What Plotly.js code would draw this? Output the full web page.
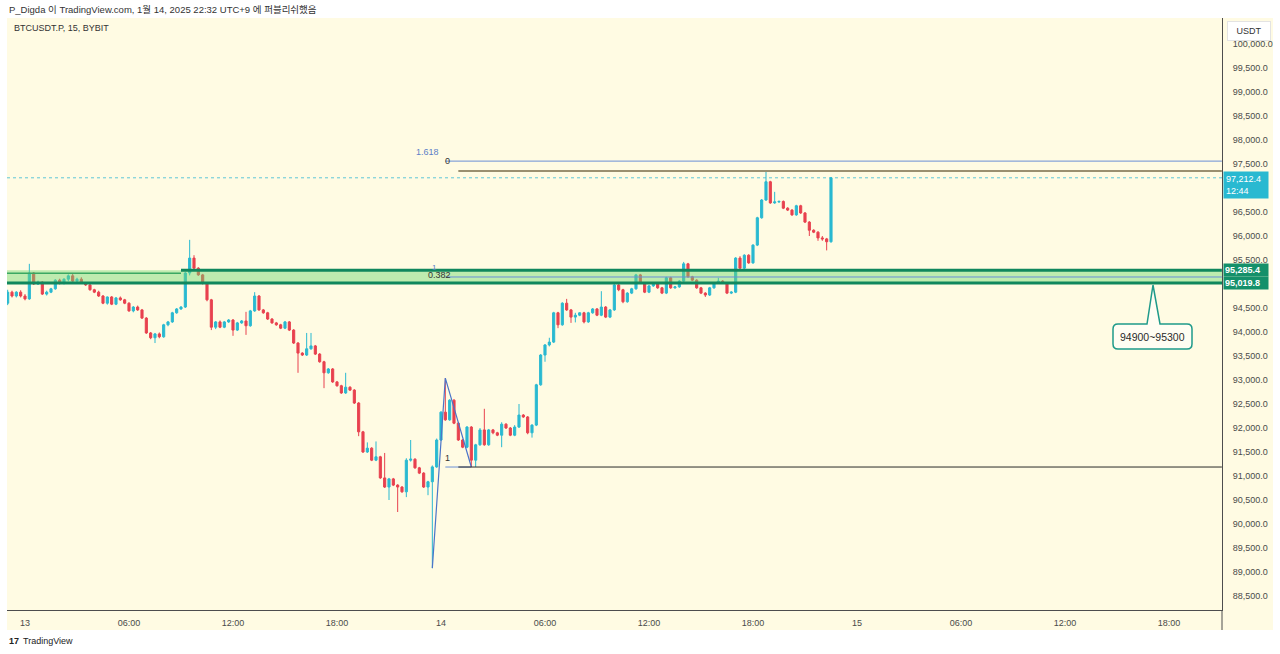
<!DOCTYPE html>
<html>
<head>
<meta charset="utf-8">
<script src="https://cdn.plot.ly/plotly-3.0.1.min.js"></script>
<style>
  html, body { margin: 0; padding: 0; background: #ffffff; }
  #chart { width: 1280px; height: 654px; }
</style>
</head>
<body>
<div id="chart"></div>
<script>
// ---- Data (BTCUSDT.P 15m, BYBIT) -- first candle 2025-01-12 23:00 (UTC+9), 15-minute step ----
const startTime = Date.UTC(2025, 0, 12, 23, 0);
const stepMinutes = 15;

const openP = [
94600,94830,94750,94830,94750,94690,95230,95000,95040,94790,
94830,94900,95080,95020,95100,95170,95060,95100,95020,94980,
94880,94830,94750,94600,94730,94580,94710,94670,94600,94440,
94520,94460,94290,93980,93880,93960,93900,94150,94210,94400,
94480,94520,95230,95540,95330,95190,95020,94670,94100,94210,
94100,94210,94250,94040,94190,94230,94130,94440,94750,94460,
94400,94270,94190,94150,94080,94210,94040,93770,93560,93520,
93650,93710,93540,93380,93150,93230,92960,92880,92730,92850,
92790,92520,91920,91500,91580,91330,91400,90960,90770,90940,
90810,90770,90670,91330,91350,91170,91060,90770,90880,91190,
91750,92330,92170,92580,92100,91750,91600,92020,91330,91650,
91960,91650,91960,91900,91850,92080,92000,91850,92020,92270,
92230,91900,92060,92900,93520,93730,93790,94400,94150,94600,
94460,94310,94350,94400,94210,94400,94480,94350,94520,94310,
94460,94980,94880,94630,94810,94900,95190,95020,94830,94960,
95020,94920,94810,95130,94920,94940,95060,95420,95150,95080,
94920,94810,94770,94920,95020,95060,95020,94810,94830,95540,
95330,95600,95440,95810,96380,96750,97130,96690,96710,96720,
96580,96540,96440,96630,96480,96290,96120,96080,95960,95940,
95880];
const highP = [
94880,94860,94850,94870,94790,95420,95250,95070,95060,94860,
94920,95100,95110,95120,95200,95210,95130,95140,95040,95000,
94900,94860,94770,94740,94750,94730,94740,94690,94620,94540,
94550,94480,94310,94000,93980,93990,94170,94230,94420,94500,
94540,95250,95920,95600,95350,95210,95040,94690,94230,94240,
94230,94270,94270,94210,94250,94420,94460,94830,94770,94480,
94420,94290,94210,94170,94230,94230,94060,93790,93580,93980,
93980,93730,93560,93400,93250,93250,92980,92900,93150,92870,
92810,92540,91940,91700,91600,91720,91420,91480,90960,90960,
90830,90790,91370,91750,91370,91190,91080,90900,91220,91780,
92350,93040,92600,92600,92120,91770,92040,92040,91670,92000,
92400,91980,91980,91920,92120,92100,92020,92060,92500,92290,
92250,92080,92920,93540,93750,93880,94420,94420,94620,94690,
94480,94400,94410,94420,94420,94500,94500,94850,94540,94480,
95000,95000,94900,94830,94920,95210,95210,95040,94980,95040,
95040,94940,95150,95150,94960,95080,95460,95440,95170,95100,
94940,94830,94940,95040,95130,95080,95040,94850,95560,95580,
95620,95620,95830,96400,96770,97354,97150,96920,96740,96740,
96600,96560,96650,96650,96500,96310,96140,96100,96000,95960,
97230];
const lowP = [
94560,94720,94720,94720,94660,94670,94980,94980,94770,94760,
94810,94880,94990,94990,95060,95040,95020,95000,94960,94860,
94810,94730,94580,94570,94560,94560,94650,94580,94420,94410,
94440,94270,93960,93850,93770,93870,93880,94120,94190,94380,
94460,94500,95180,95310,95170,94990,94640,94040,94060,94080,
94080,94190,93920,94020,94170,93940,94110,94420,94440,94380,
94250,94170,94130,94060,94060,94020,93750,93150,93500,93500,
93630,93520,93360,92830,93130,92940,92860,92710,92710,92770,
92500,91830,91480,91480,91310,91310,90940,90750,90500,90790,
90250,90650,90560,91300,91150,91040,90750,90600,89080,91170,
91730,92150,92150,92080,91730,91580,91580,91187,91190,91630,
91630,91630,91870,91830,91600,91980,91830,91830,92000,92210,
91870,91800,92040,92880,93380,93700,93770,94080,94130,94440,
94190,94200,94330,94180,94190,94380,94330,94330,94290,94290,
94440,94850,94600,94610,94790,94880,95000,94810,94810,94940,
94900,94790,94790,94900,94900,94920,95040,95130,95060,94900,
94790,94730,94750,94900,95000,95000,94790,94790,94810,95310,
95310,95420,95420,95790,96360,96730,96670,96670,96690,96560,
96520,96420,96420,96460,96270,96000,96060,95900,95900,95700,
95860];
const closeP = [
94830,94750,94830,94750,94690,95230,95000,95040,94790,94830,
94900,95080,95020,95100,95170,95060,95100,95020,94980,94880,
94830,94750,94600,94730,94580,94710,94670,94600,94440,94520,
94460,94290,93980,93880,93960,93900,94150,94210,94400,94480,
94520,95230,95540,95330,95190,95020,94670,94100,94210,94100,
94210,94250,94040,94190,94230,94130,94440,94750,94460,94400,
94270,94190,94150,94080,94210,94040,93770,93560,93520,93650,
93710,93540,93380,93150,93230,92960,92880,92730,92850,92790,
92520,91920,91500,91580,91330,91400,90960,90770,90940,90810,
90770,90670,91330,91350,91170,91060,90770,90880,91190,91750,
92330,92170,92580,92100,91750,91600,92020,91330,91650,91960,
91650,91960,91900,91850,92080,92000,91850,92020,92270,92230,
91900,92060,92900,93520,93730,93790,94400,94150,94600,94460,
94310,94350,94400,94210,94400,94480,94350,94520,94310,94460,
94980,94880,94630,94810,94900,95190,95020,94830,94960,95020,
94920,94810,95130,94920,94940,95060,95420,95150,95080,94920,
94810,94770,94920,95020,95060,95020,94810,94830,95540,95330,
95600,95440,95810,96380,96750,97130,96690,96710,96720,96580,
96540,96440,96630,96480,96290,96120,96080,95960,95940,95880,
97212.4];

// zone & drawing levels
const zoneHigh = 95285.4;
const zoneLow = 95019.8;
const zoneText = "94900~95300";
const fibBlueLevels = [97560, 95146, 91187];
const fibBlueLabels = ["1.618", "1", ""];
const fibDarkLevels = [97354, 95000, 91187];
const fibDarkLabels = ["0", "0.382", "1"];
const countdown = "12:44";

// price-scale tick labels shown (95,000 and 97,000 are hidden under the price tags)
const priceTicks = [88500, 89000, 89500, 90000, 90500, 91000, 91500, 92000, 92500, 93000, 93500,
  94000, 94500, 95500, 96000, 96500, 97500, 98000, 98500, 99000, 99500, 100000];

// x-axis tick labels
const tickDates = ["2025-01-13 00:00","2025-01-13 06:00","2025-01-13 12:00","2025-01-13 18:00",
  "2025-01-14 00:00","2025-01-14 06:00","2025-01-14 12:00","2025-01-14 18:00",
  "2025-01-15 00:00","2025-01-15 06:00","2025-01-15 12:00","2025-01-15 18:00"];
const tickLabels = ["13","06:00","12:00","18:00","14","06:00","12:00","18:00","15","06:00","12:00","18:00"];

// ---- build ----
function fmt(ms) { return new Date(ms).toISOString().slice(0, 16).replace('T', ' '); }
const times = openP.map((_, k) => fmt(startTime + k * stepMinutes * 60000));
const idx = i => i + 4; // candle number relative to 13 Jan 00:00

const UP = '#29b9d1', DOWN = '#e8414f';
const L = 7, R = 58, T = 18, B = 44, W = 1280, H = 654;
const PW = W - L - R, PH = H - T - B;
const px = v => (v - L) / PW;          // pixel x -> paper
const py = v => (H - B - v) / PH;      // pixel y -> paper

const candles = {
  type: 'candlestick', x: times, open: openP, high: highP, low: lowP, close: closeP,
  increasing: { line: { color: UP, width: 1 }, fillcolor: UP },
  decreasing: { line: { color: DOWN, width: 1 }, fillcolor: DOWN },
  whiskerwidth: 0, hoverinfo: 'skip', showlegend: false
};
const zig = {
  type: 'scatter', mode: 'lines',
  x: [times[idx(94)], times[idx(97)], times[idx(103)]],
  y: [lowP[idx(94)], highP[idx(97)], lowP[idx(103)]],
  line: { color: '#4b74c8', width: 1.2 }, hoverinfo: 'skip', showlegend: false
};

const last = closeP[closeP.length - 1];
const fmtPrice = v => v.toLocaleString('en-US', { minimumFractionDigits: 1, maximumFractionDigits: 1 });

const shapes = [
  // cream panel
  { type: 'rect', xref: 'paper', yref: 'paper', x0: 0, x1: px(1273), y0: py(630), y1: 1,
    fillcolor: '#fffbe3', line: { width: 0 }, layer: 'below' },
  // zone fill
  { type: 'rect', xref: 'paper', yref: 'y', x0: 0, x1: 1, y0: zoneLow, y1: zoneHigh,
    fillcolor: 'rgba(110,215,110,0.45)', line: { width: 0 }, layer: 'above' },
  { type: 'line', xref: 'paper', yref: 'y', x0: 0, x1: px(181), y0: zoneHigh - 60, y1: zoneHigh - 60,
    line: { color: '#3aa862', width: 1.5 }, layer: 'above' },
  { type: 'line', xref: 'x', yref: 'y', x0: times[idx(36)], x1: '2025-01-15 21:03', y0: zoneHigh, y1: zoneHigh,
    line: { color: '#10875d', width: 3 }, layer: 'above' },
  { type: 'line', xref: 'paper', yref: 'y', x0: 0, x1: 1, y0: zoneLow, y1: zoneLow,
    line: { color: '#10875d', width: 3 }, layer: 'above' },
  // current price dotted line
  { type: 'line', xref: 'paper', yref: 'y', x0: 0, x1: 1, y0: last, y1: last,
    line: { color: '#5fc6d8', width: 1, dash: 'dot' }, layer: 'below' },
  // fib lines
  { type: 'line', xref: 'x', yref: 'y', x0: times[idx(97)], x1: '2025-01-15 21:03', y0: fibBlueLevels[0], y1: fibBlueLevels[0],
    line: { color: '#6a8fd6', width: 1 } },
  { type: 'line', xref: 'x', yref: 'y', x0: times[idx(100)], x1: '2025-01-15 21:03', y0: fibDarkLevels[0], y1: fibDarkLevels[0],
    line: { color: '#9a8f70', width: 2 } },
  { type: 'line', xref: 'x', yref: 'y', x0: times[idx(97)], x1: '2025-01-15 21:03', y0: fibBlueLevels[1], y1: fibBlueLevels[1],
    line: { color: '#6a8fd6', width: 1 }, layer: 'above' },
  { type: 'line', xref: 'x', yref: 'y', x0: times[idx(97)], x1: times[idx(103)], y0: fibBlueLevels[2], y1: fibBlueLevels[2],
    line: { color: '#6a8fd6', width: 1 } },
  { type: 'line', xref: 'x', yref: 'y', x0: times[idx(100)], x1: '2025-01-15 21:03', y0: fibDarkLevels[2], y1: fibDarkLevels[2],
    line: { color: '#2a2a2a', width: 1 } },
  // price-scale separator continuation
  { type: 'line', xref: 'paper', yref: 'paper', x0: 1, x1: 1, y0: py(630), y1: 0,
    line: { color: '#4d4d4d', width: 1 } },
  // callout
  { type: 'path', xref: 'paper', yref: 'paper', layer: 'above',
    path: (function () {
      const P = (x, y) => px(x) + ',' + py(y);
      return 'M' + P(1118,324) + ' L' + P(1147,324) + ' L' + P(1153,285) + ' L' + P(1160,324) +
        ' L' + P(1187,324) + ' Q' + P(1192,324) + ' ' + P(1192,329) + ' L' + P(1192,344) +
        ' Q' + P(1192,349) + ' ' + P(1187,349) + ' L' + P(1118,349) + ' Q' + P(1113,349) + ' ' + P(1113,344) +
        ' L' + P(1113,329) + ' Q' + P(1113,324) + ' ' + P(1118,324) + ' Z';
    })(),
    fillcolor: '#fffdf2', line: { color: '#1f9a8a', width: 1.5 } }
];

const F = 'Liberation Sans, Arial, sans-serif';
const annotations = [
  { xref: 'paper', yref: 'paper', x: 0, y: py(9), xanchor: 'left', yanchor: 'middle', showarrow: false,
    text: 'P_Digda 이 TradingView.com, 1월 14, 2025 22:32 UTC+9 에 퍼블리쉬했음',
    font: { family: 'Liberation Sans, Noto Sans CJK KR', size: 9.5, color: '#333' } },
  { xref: 'paper', yref: 'paper', x: px(12), y: py(28), xanchor: 'left', yanchor: 'middle', showarrow: false,
    text: 'BTCUSDT.P, 15, BYBIT', font: { family: F, size: 9, color: '#333' } },
  { xref: 'paper', yref: 'paper', x: px(1249), y: py(31), xanchor: 'center', yanchor: 'middle', showarrow: false,
    text: 'USDT', font: { family: F, size: 9, color: '#333' }, bgcolor: '#ffffff', bordercolor: '#e3e3e3',
    borderwidth: 1, borderpad: 3, width: 36, height: 12 },
  // price scale labels
  { xref: 'paper', yref: 'y', x: px(1223), y: last, xanchor: 'left', yanchor: 'top', yshift: 7, showarrow: false,
    text: fmtPrice(last) + '<br>' + countdown, align: 'left', width: 40,
    font: { family: F, size: 9, color: '#ffffff' }, bgcolor: UP, borderpad: 2 },
  { xref: 'paper', yref: 'y', x: px(1223), y: zoneHigh, xanchor: 'left', yanchor: 'middle', showarrow: false,
    text: '<b>' + fmtPrice(zoneHigh) + '</b>', align: 'left', width: 42,
    font: { family: F, size: 9, color: '#ffffff' }, bgcolor: '#14906a', borderpad: 1 },
  { xref: 'paper', yref: 'y', x: px(1223), y: zoneLow, xanchor: 'left', yanchor: 'middle', showarrow: false,
    text: '<b>' + fmtPrice(zoneLow) + '</b>', align: 'left', width: 42,
    font: { family: F, size: 9, color: '#ffffff' }, bgcolor: '#14906a', borderpad: 1 },
  // fib labels
  { xref: 'x', yref: 'y', x: times[idx(97)], y: fibBlueLevels[0], xanchor: 'right', yanchor: 'middle', xshift: -4, yshift: 9,
    showarrow: false, text: fibBlueLabels[0], font: { family: F, size: 9, color: '#5b80c8' } },
  { xref: 'x', yref: 'y', x: times[idx(100)], y: fibDarkLevels[0], xanchor: 'right', yanchor: 'middle', xshift: -6, yshift: 10,
    showarrow: false, text: fibDarkLabels[0], font: { family: F, size: 9, color: '#333' } },
  { xref: 'x', yref: 'y', x: times[idx(97)], y: fibBlueLevels[1], xanchor: 'right', yanchor: 'middle', xshift: -6, yshift: 9,
    showarrow: false, text: fibBlueLabels[1], font: { family: F, size: 8, color: '#5b80c8' } },
  { xref: 'x', yref: 'y', x: times[idx(100)], y: fibDarkLevels[1], xanchor: 'right', yanchor: 'middle', xshift: -5, yshift: 9,
    showarrow: false, text: fibDarkLabels[1], font: { family: F, size: 9, color: '#333' } },
  { xref: 'x', yref: 'y', x: times[idx(100)], y: fibDarkLevels[2], xanchor: 'right', yanchor: 'middle', xshift: -6, yshift: 9,
    showarrow: false, text: fibDarkLabels[2], font: { family: F, size: 9, color: '#333' } },
  // callout text
  { xref: 'paper', yref: 'paper', x: px(1152.5), y: py(337), xanchor: 'center', yanchor: 'middle', showarrow: false,
    text: zoneText, font: { family: F, size: 10.5, color: '#2a2a2a' } },
  // footer
  { xref: 'paper', yref: 'paper', x: px(7), y: py(641), xanchor: 'left', yanchor: 'middle', showarrow: false,
    text: '<b>17</b>', font: { family: F, size: 9, color: '#222' } },
  { xref: 'paper', yref: 'paper', x: px(21), y: py(641), xanchor: 'left', yanchor: 'middle', showarrow: false,
    text: 'TradingView', font: { family: F, size: 9, color: '#222' } }
];

const layout = {
  width: W, height: H,
  margin: { l: L, r: R, t: T, b: B, pad: 0 },
  paper_bgcolor: '#ffffff', plot_bgcolor: 'rgba(0,0,0,0)',
  showlegend: false, hovermode: false,
  xaxis: {
    type: 'date', range: ['2025-01-12 22:57:42', '2025-01-15 21:03:29'],
    rangeslider: { visible: false },
    tickmode: 'array', tickvals: tickDates, ticktext: tickLabels,
    showgrid: false, zeroline: false, showline: true, linecolor: '#4d4d4d', linewidth: 1,
    ticks: '', ticklabelstandoff: 4,
    tickfont: { family: F, size: 9, color: '#4a4a4a' }, fixedrange: true
  },
  yaxis: {
    side: 'right', range: [88208.3, 100541.7],
    tickmode: 'array', tickvals: priceTicks, tickformat: ',.1f',
    showgrid: false, zeroline: false, showline: true, linecolor: '#4d4d4d', linewidth: 1,
    ticks: '', ticklabelstandoff: 8,
    tickfont: { family: F, size: 9, color: '#4a4a4a' }, fixedrange: true
  },
  shapes: shapes,
  annotations: annotations
};

Plotly.newPlot('chart', [candles, zig], layout, { displayModeBar: false, staticPlot: true });
</script>
</body>
</html>
